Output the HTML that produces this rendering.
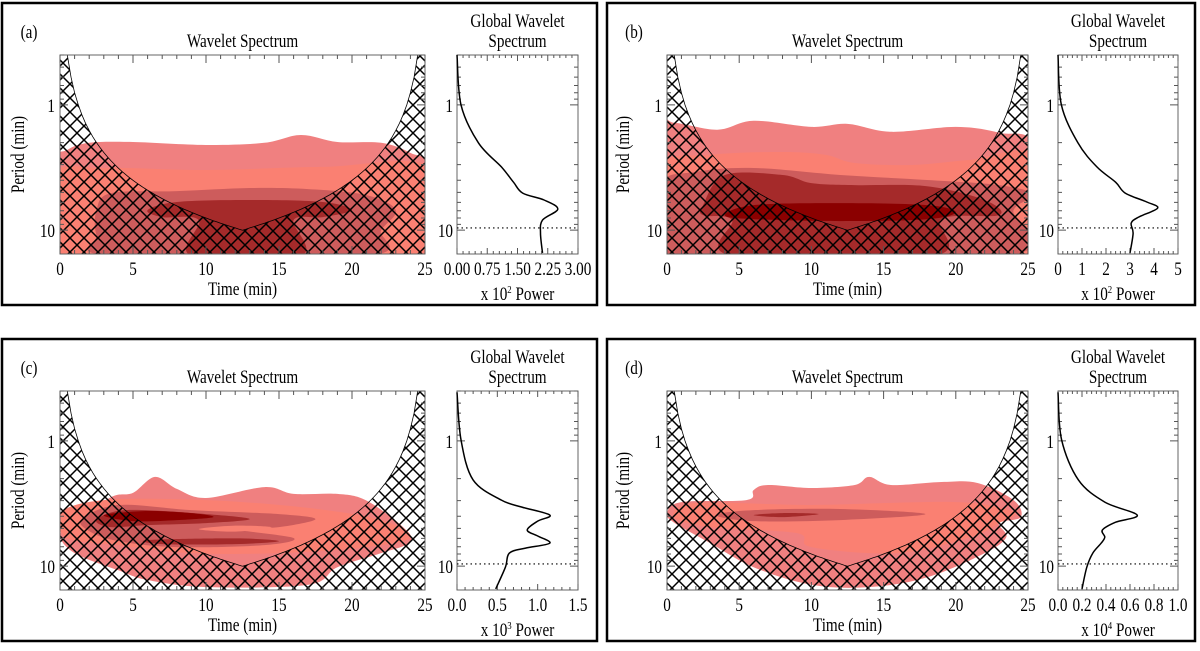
<!DOCTYPE html>
<html><head><meta charset="utf-8"><style>
html,body{margin:0;padding:0;background:#fff;}
svg{display:block;font-family:"Liberation Serif",serif;}
</style></head>
<body>
<svg id="fig" width="1200" height="651" viewBox="0 0 1200 651" xmlns="http://www.w3.org/2000/svg">
<defs>
<pattern id="hatch" patternUnits="userSpaceOnUse" width="14" height="14">
<path d="M0,0L14,14M0,14L14,0M-1,13L1,15M13,-1L15,1" stroke="#000" stroke-width="1.5" fill="none"/>
</pattern>
</defs>
</svg>
<script>
// ---- contour data: [time (min), period (min)] polygon vertices ----
const aL1=[[-0.5,3.02],[0.5,2.29],[2,2.01],[5,1.98],[10,2.09],[14,2.01],[16.5,1.74],[19,1.98],[22,2.01],[24,2.42],[25.5,3.31],[25.5,16],[-0.5,16]];
const aL2=[[-0.5,3.63],[3,3.19],[10,3.31],[18,3.13],[25.5,3.19],[25.5,16],[-0.5,16]];
const aL3=[[2.5,6.92],[3.5,5.06],[8,4.88],[13,4.61],[17,4.7],[21,5.25],[23,6.92],[22,10],[21,16],[3.5,16],[2.5,11]];
const aL4=[[6,6.92],[8,5.96],[13,5.75],[18,5.96],[20,6.92],[18,7.87],[16,8.32],[16.5,16],[9,16],[9.5,8.32],[7,7.87]];
const bL1=[[-0.5,1.5],[0.5,1.39],[3.5,1.58],[6,1.34],[10,1.5],[12.5,1.42],[15.5,1.64],[20,1.5],[23,1.67],[25.5,2.2],[25.5,16],[-0.5,16]];
const bL2=[[-0.5,3.13],[3,2.51],[8,2.38],[11,2.51],[13,2.91],[17,3.02],[21,2.75],[25.5,2.6],[25.5,16],[-0.5,16]];
const bL3=[[-0.5,4.37],[2,3.43],[6,3.19],[12,3.63],[18,3.98],[23,4.37],[25.5,5.25],[24,6.92],[23.5,16],[-0.5,16]];
const bL4=[[2.5,6.31],[4,3.63],[8,3.63],[10,4.21],[13,4.37],[18,4.46],[22,5.75],[23,7.59],[19,8.17],[18.5,16],[4.5,16],[4.5,8.32],[2.5,7.59]];
const bL5=[[4,7.59],[6,6.31],[12,6.08],[18,6.31],[20,7.18],[18,8.17],[12,8.47],[6,8.17]];
const cL1=[[0,5.65],[1,4.5],[3.5,2.81],[5,2.6],[6.5,1.94],[8,2.42],[10,2.86],[14,2.34],[16,2.65],[19,2.65],[21,3.0],[23.5,4.88],[24,6.43],[22,7.87],[19,10.2],[17,14.1],[10,14.7],[6,12.9],[4,10.8],[1,7.87]];
const cL2=[[0,3.77],[3,2.97],[10,2.97],[17,3.43],[22,4.29],[24,5.86],[21,7.05],[15,7.87],[9,7.87],[4,6.79],[0.5,5.96]];
const cL3=[[1.5,4.21],[4,3.25],[9,3.57],[15,3.84],[17.5,4.21],[15,4.88],[12,5.06],[16,5.96],[14,6.79],[8,7.05],[4,6.31],[2,5.25]];
const cHole=[[9.5,5.06],[12,4.75],[14.5,4.9],[12,5.3]];
const cL4a=[[2.5,4.29],[4.5,3.57],[10,3.84],[13,4.21],[10,4.53],[6,4.7],[3.5,4.88]];
const cL4b=[[6,6.19],[12,6.0],[15,6.31],[12,6.67],[7,6.67]];
const cL5=[[3,3.91],[6,3.63],[9,3.77],[10.5,4.06],[8,4.29],[5,4.37]];
const dL1=[[0,3.77],[1,3.08],[5.5,2.97],[6,2.47],[7,2.25],[10,2.38],[13,2.25],[14,1.94],[15.5,2.25],[19,2.13],[21.5,2.17],[24,2.97],[24.5,4.06],[23,4.53],[23.5,5.86],[22,7.87],[18,12.3],[14,14.7],[10,14.1],[6,10.2],[3,6.55],[0.5,4.5]];
const dL2=[[0.5,4.06],[2,3.13],[10,3.25],[20,3.08],[24,3.7],[23,4.53],[21,5.86],[16,7.87],[10,7.05],[9,5.45],[3,4.88]];
const dL3=[[3.4,3.91],[6,3.57],[12,3.5],[17.9,3.84],[12,4.29],[6,4.37]];
const dL4=[[6,3.91],[8,3.77],[10.5,3.84],[8,4.06]];
// ---- global wavelet spectra ----
const gA_per=[0.4,1,2.01,3.13,4.14,5.06,5.75,6.79,8.32,10.6,15.2];
const gA_pow=[0,0.1,0.53,1.1,1.4,1.63,2.16,2.5,2.12,2.07,2.12];
const gB_per=[0.4,1,2.01,3.13,4.14,5.06,5.96,6.67,7.87,8.79,10.6,15.2];
const gB_pow=[0,0.14,0.83,1.62,2.4,2.8,3.7,4.15,3.36,3.05,3.13,3.0];
const gC_per=[0.41,0.98,2.05,2.97,3.37,3.91,4.37,5.15,5.75,6.55,7.18,7.87,10.2,15.2];
const gC_pow=[0,0.05,0.2,0.55,0.8,1.15,1.0,0.87,1.0,1.15,0.85,0.65,0.6,0.48];
const gD_per=[0.41,0.98,2.05,3.08,3.91,4.46,5.15,5.86,6.55,7.87,10.2,15.2];
const gD_pow=[0,0.03,0.17,0.39,0.66,0.48,0.37,0.39,0.36,0.29,0.24,0.2];
const signifPeriod=9.6;
const timeTicks=[0,5,10,15,20,25];
const aTicks=["0.00","0.75","1.50","2.25","3.00"];
const bTicks=["0","1","2","3","4","5"];
const cTicks=["0.0","0.5","1.0","1.5"];
const dTicks=["0.0","0.2","0.4","0.6","0.8","1.0"];
const colors=["#f08080","#fa8072","#cd5c5c","#a52a2a","#8b0000"];

const NS="http://www.w3.org/2000/svg";
const svg=document.getElementById('fig');
function el(tag,attrs,parent){const e=document.createElementNS(NS,tag);for(const k in attrs)e.setAttribute(k,attrs[k]);(parent||svg).appendChild(e);return e;}
function txt(s,x,y,size,anchor,parent,rot){
  const t=el('text',{x:0,y:0,'font-size':size,'text-anchor':anchor||'middle',fill:'#000',
    transform:`translate(${x},${y})${rot?' rotate(-90)':''} scale(0.8,1)`},parent);
  t.textContent=s;return t;}
function crPath(pts,closed){
  const n=pts.length;let d=`M${pts[0][0].toFixed(1)},${pts[0][1].toFixed(1)}`;
  const g=i=>closed?pts[(i+n)%n]:pts[Math.max(0,Math.min(n-1,i))];
  const m=closed?n:n-1;
  for(let i=0;i<m;i++){const p0=g(i-1),p1=g(i),p2=g(i+1),p3=g(i+2);
    const c1=[p1[0]+(p2[0]-p0[0])/6,p1[1]+(p2[1]-p0[1])/6],c2=[p2[0]-(p3[0]-p1[0])/6,p2[1]-(p3[1]-p1[1])/6];
    d+=`C${c1[0].toFixed(1)},${c1[1].toFixed(1)} ${c2[0].toFixed(1)},${c2[1].toFixed(1)} ${p2[0].toFixed(1)},${p2[1].toFixed(1)}`;}
  return d+(closed?'Z':'');}

const LMIN=Math.log10(0.4),LMAX=Math.log10(15.5),PH=199;
const FS=19;
const panels=[
 {id:'a',oy:0,bx:2,bw:595,mx0:60,mx1:425,gx0:457,gx1:578,gmax:3,ticks:aTicks,exp:'2',lv:[aL1,aL2,aL3,aL4],lc:[0,1,2,3],per:gA_per,pow:gA_pow},
 {id:'b',oy:0,bx:607,bw:588,mx0:667,mx1:1028,gx0:1058,gx1:1178,gmax:5,ticks:bTicks,exp:'2',lv:[bL1,bL2,bL3,bL4,bL5],lc:[0,1,2,3,4],per:gB_per,pow:gB_pow},
 {id:'c',oy:336,bx:2,bw:595,mx0:60,mx1:425,gx0:457,gx1:578,gmax:1.5,ticks:cTicks,exp:'3',lv:[cL1,cL2,cL3,cHole,cL4a,cL4b,cL5],lc:[0,1,2,1,3,3,4],per:gC_per,pow:gC_pow},
 {id:'d',oy:336,bx:607,bw:588,mx0:667,mx1:1028,gx0:1058,gx1:1178,gmax:1,ticks:dTicks,exp:'4',lv:[dL1,dL2,dL3,dL4],lc:[0,1,2,3],per:gD_per,pow:gD_pow}
];

panels.forEach(P=>{
  const top=55+P.oy,bot=top+PH;
  const ys=p=>top+(Math.log10(p)-LMIN)/(LMAX-LMIN)*PH;
  const xs=t=>P.mx0+t/25*(P.mx1-P.mx0);
  const gxs=v=>P.gx0+v/P.gmax*(P.gx1-P.gx0);
  const g=el('g',{});
  
  
  const border=el('rect',{x:P.bx,y:3+P.oy,width:P.bw,height:302,fill:'none',stroke:'#000','stroke-width':2.5},g);
  
  
  const lab=txt('('+P.id+')',P.bx+27,38+P.oy,FS,'middle',g);
  
  
  const mcx=(P.mx0+P.mx1)/2,gcx=(P.gx0+P.gx1)/2;
  const t1=txt('Wavelet Spectrum',mcx,47+P.oy,FS,'middle',g);
  
  
  const t2=txt('Global Wavelet',gcx,27+P.oy,FS,'middle',g);
  
  
  const t3=txt('Spectrum',gcx,47+P.oy,FS,'middle',g);
  
  
  const cp=el('clipPath',{id:'clip'+P.id},g);
  el('rect',{x:P.mx0,y:top,width:P.mx1-P.mx0,height:PH},cp);
  const cg=el('g',{'clip-path':`url(#clip${P.id})`},g);
  P.lv.forEach((poly,i)=>{
    const pts=poly.map(q=>[xs(q[0]),ys(q[1])]);
    const pa=el('path',{d:crPath(pts,true),fill:colors[P.lc[i]]},cg);
    
    
  });
  const cone=[];
  for(let t=0;t<=25.001;t+=0.25){const c=Math.max(0.15,0.8*Math.min(t,25-t));cone.push([xs(t),ys(c)]);}
  let hd=`M${P.mx0},${bot+2}L${P.mx0-2},${top-40}`;cone.forEach(q=>hd+=`L${q[0].toFixed(1)},${q[1].toFixed(1)}`);
  hd+=`L${P.mx1+2},${top-40}L${P.mx1},${bot+2}Z`;
  const hatch=el('path',{d:hd,fill:'url(#hatch)'},cg);
  
  
  let cd='M'+cone.map(q=>q[0].toFixed(1)+','+q[1].toFixed(1)).join('L');
  const coneLine=el('path',{d:cd,fill:'none',stroke:'#000','stroke-width':0.8},cg);
  
  
  const f1=el('rect',{x:P.mx0,y:top,width:P.mx1-P.mx0,height:PH,fill:'none',stroke:'#666','stroke-width':1},g);
  
  
  const f2=el('rect',{x:P.gx0,y:top,width:P.gx1-P.gx0,height:PH,fill:'none',stroke:'#666','stroke-width':1},g);
  
  
  let tk='';
  for(let t=0;t<=25;t++){const L=t%5===0?8:4,x=xs(t);tk+=`M${x},${top}v${L}M${x},${bot}v${-L}`;}
  const yt=[0.4,0.5,0.6,0.7,0.8,0.9,1,2,3,4,5,6,7,8,9,10];
  yt.forEach(p=>{const L=(p===1||p===10)?8:4,y=ys(p);
    tk+=`M${P.mx0},${y}h${L}M${P.mx1},${y}h${-L}M${P.gx0},${y}h${L}M${P.gx1},${y}h${-L}`;});
  const nG=P.ticks.length-1;
  for(let i=0;i<=nG*5;i++){const v=P.gmax*i/(nG*5),x=gxs(v),L=i%5===0?6:3;tk+=`M${x},${top}v${L}M${x},${bot}v${-L}`;}
  const tp=el('path',{d:tk,stroke:'#555','stroke-width':1,fill:'none'},g);
  
  
  timeTicks.forEach(t=>{const e=txt(String(t),xs(t),275+P.oy,FS,'middle',g);
    
    });
  P.ticks.forEach((s,i)=>{const e=txt(s,gxs(P.gmax*i/nG),275+P.oy,FS,'middle',g);
    
    });
  [[1,'1'],[10,'10']].forEach(([p,s])=>{
    const e1=txt(s,P.mx0-5,ys(p)+7,FS,'end',g);
    
    
    const e2=txt(s,P.gx0-4,ys(p)+7,FS,'end',g);
    
    });
  const xl=txt('Time (min)',mcx,295+P.oy,FS,'middle',g);
  
  
  const yl=txt('Period (min)',P.bx+22,(top+bot)/2,FS,'middle',g,true);
  
  
  const pl=el('text',{x:0,y:0,'font-size':FS,'text-anchor':'middle',transform:`translate(${gcx},${300+P.oy}) scale(0.8,1)`},g);
  pl.innerHTML=`x 10<tspan dy="-7" font-size="11">${P.exp}</tspan><tspan dy="7"> Power</tspan>`;
  
  
  const sl=el('line',{x1:P.gx0,x2:P.gx1,y1:ys(signifPeriod),y2:ys(signifPeriod),stroke:'#000','stroke-width':1.2,'stroke-dasharray':'1.5,3'},g);
  
  
  const gp=P.per.map((p,i)=>[gxs(P.pow[i]),ys(p)]);
  const gc=el('path',{d:crPath(gp,false),fill:'none',stroke:'#000','stroke-width':1.5},g);
  
  
});
</script>
</body></html>
